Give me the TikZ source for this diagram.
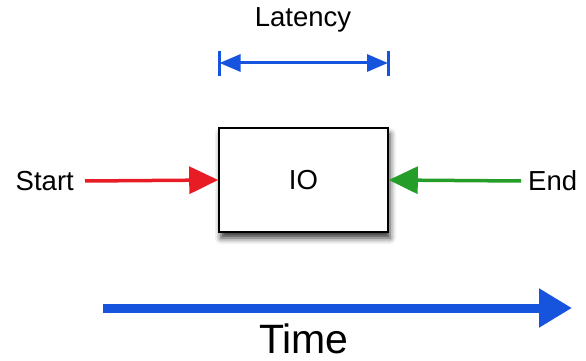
\documentclass[tikz,border=0pt]{standalone}
\usepackage{fontspec}
\setmainfont{Liberation Sans}
\usetikzlibrary{arrows.meta,shadows.blur}
\definecolor{myred}{RGB}{232,28,36}
\definecolor{mygreen}{RGB}{36,158,40}
\definecolor{myblue}{RGB}{22,84,222}
\tikzset{
  lbl/.style={font=\fontsize{27.5}{30}\selectfont, inner sep=0pt},
  iobox/.style={draw=black, line width=1.6pt, fill=white, minimum width=169pt, minimum height=104pt,
    blur shadow={shadow xshift=2pt, shadow yshift=-6pt, shadow blur radius=6pt, shadow opacity=80}},
  inarrow/.style={line width=3.5pt, -{Triangle[length=29pt,width=27pt]}},
  latarrow/.style={myblue, line width=3pt, {Triangle[length=21pt,width=17pt]}-{Triangle[length=21pt,width=17pt]}},
  timearrow/.style={myblue, line width=9pt, -{Triangle[length=33pt,width=37pt]}}
}
\begin{document}
\begin{tikzpicture}[x=1pt,y=-1pt]
\useasboundingbox (0,0) rectangle (586,361);
\node[iobox] (io) at (303.5,180) {};
\node[lbl] (iotext) at (io.center) {IO};
\node[lbl] (latency) at (303,20) {Latency};
\node[lbl, anchor=east] (start) at (74,181) {Start};
\node[lbl, anchor=west] (end) at (528,181) {End};
\node[font=\fontsize{41}{45}\selectfont, inner sep=0pt] (time) at (304,339) {Time};
% latency
\coordinate (la) at (219.5,63);
\coordinate (lb) at (388,63);
\coordinate (la1) at (219.5,51);
\coordinate (la2) at (219.5,76);
\coordinate (lb1) at (388,51);
\coordinate (lb2) at (388,76);
\draw[myblue, line width=3pt] (la1) -- (la2);
\draw[myblue, line width=3pt] (lb1) -- (lb2);
\draw[latarrow] (la) -- (lb);
% start / end
\draw[inarrow, myred] ([xshift=11pt]start.east) -- (io.west);
\draw[inarrow, mygreen] ([xshift=-7pt]end.west) -- (io.east);
% time
\coordinate (t0) at (103,308);
\coordinate (t1) at (572,308);
\draw[timearrow] (t0) -- (t1);
\end{tikzpicture}
\end{document}
